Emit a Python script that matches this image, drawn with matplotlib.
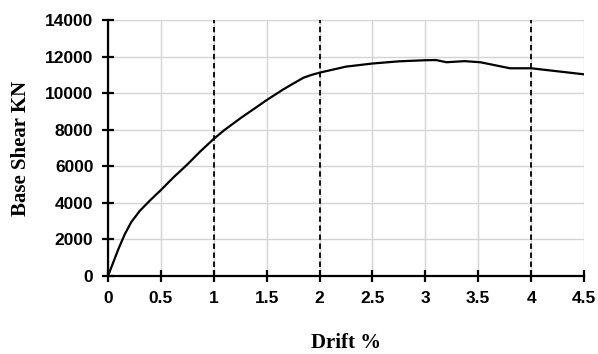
import numpy as np
import matplotlib
matplotlib.use('Agg')
import matplotlib.pyplot as plt

# кривая pushover: дрейф (%) и поперечная сила в основании (кН)
drift = [0, 0.05, 0.1, 0.16, 0.22, 0.3, 0.4, 0.5, 0.62, 0.75, 0.87, 1.0, 1.1,
         1.25, 1.5, 1.65, 1.75, 1.85, 1.92, 2.0, 2.25, 2.5, 2.75, 3.0, 3.1,
         3.2, 3.37, 3.52, 3.8, 4.0, 4.5]
shear = [0, 750, 1500, 2300, 2950, 3560, 4150, 4700, 5400, 6100, 6800, 7500, 7980,
         8620, 9620, 10180, 10520, 10850, 10990, 11120, 11450, 11620, 11740, 11800, 11810,
         11690, 11750, 11690, 11360, 11360, 11030]
limit_drifts = [1, 2, 4]  # пунктирные вертикальные линии

x_ticks = [0, 0.5, 1, 1.5, 2, 2.5, 3, 3.5, 4, 4.5]
x_tick_labels = ['0', '0.5', '1', '1.5', '2', '2.5', '3', '3.5', '4', '4.5']
y_ticks = [0, 2000, 4000, 6000, 8000, 10000, 12000, 14000]

fig = plt.figure(figsize=(5.98, 3.54), dpi=100)
ax = fig.add_axes([0.1806, 0.2203, 0.796, 0.7232])

ax.plot(drift, shear, color='black', linewidth=1.6, zorder=3)
for xd in limit_drifts:
    ax.axvline(xd, color='black', linestyle=(0, (3, 2)), linewidth=1.3, zorder=2)

ax.set_xlim(0, 4.5)
ax.set_ylim(0, 14000)
ax.set_xticks(x_ticks)
ax.set_xticklabels(x_tick_labels)
ax.set_yticks(y_ticks)
ax.grid(True, color='#d4d4d4', linewidth=1.0, zorder=0)
ax.set_axisbelow(True)

for s in ['top', 'right']:
    ax.spines[s].set_visible(False)
for s in ['left', 'bottom']:
    ax.spines[s].set_linewidth(1.6)
ax.tick_params(direction='inout', length=9, width=1.6, pad=6)

for lab in ax.get_xticklabels() + ax.get_yticklabels():
    lab.set_fontfamily('Liberation Sans')
    lab.set_fontweight('heavy')
    lab.set_fontsize(12.5)

ax.set_xlabel('Drift %', fontfamily='Liberation Serif', fontweight='bold',
              fontsize=15, labelpad=20)
ax.set_ylabel('Base Shear KN', fontfamily='Liberation Serif', fontweight='bold',
              fontsize=15, labelpad=10)

plt.savefig('out.png', dpi=100)
